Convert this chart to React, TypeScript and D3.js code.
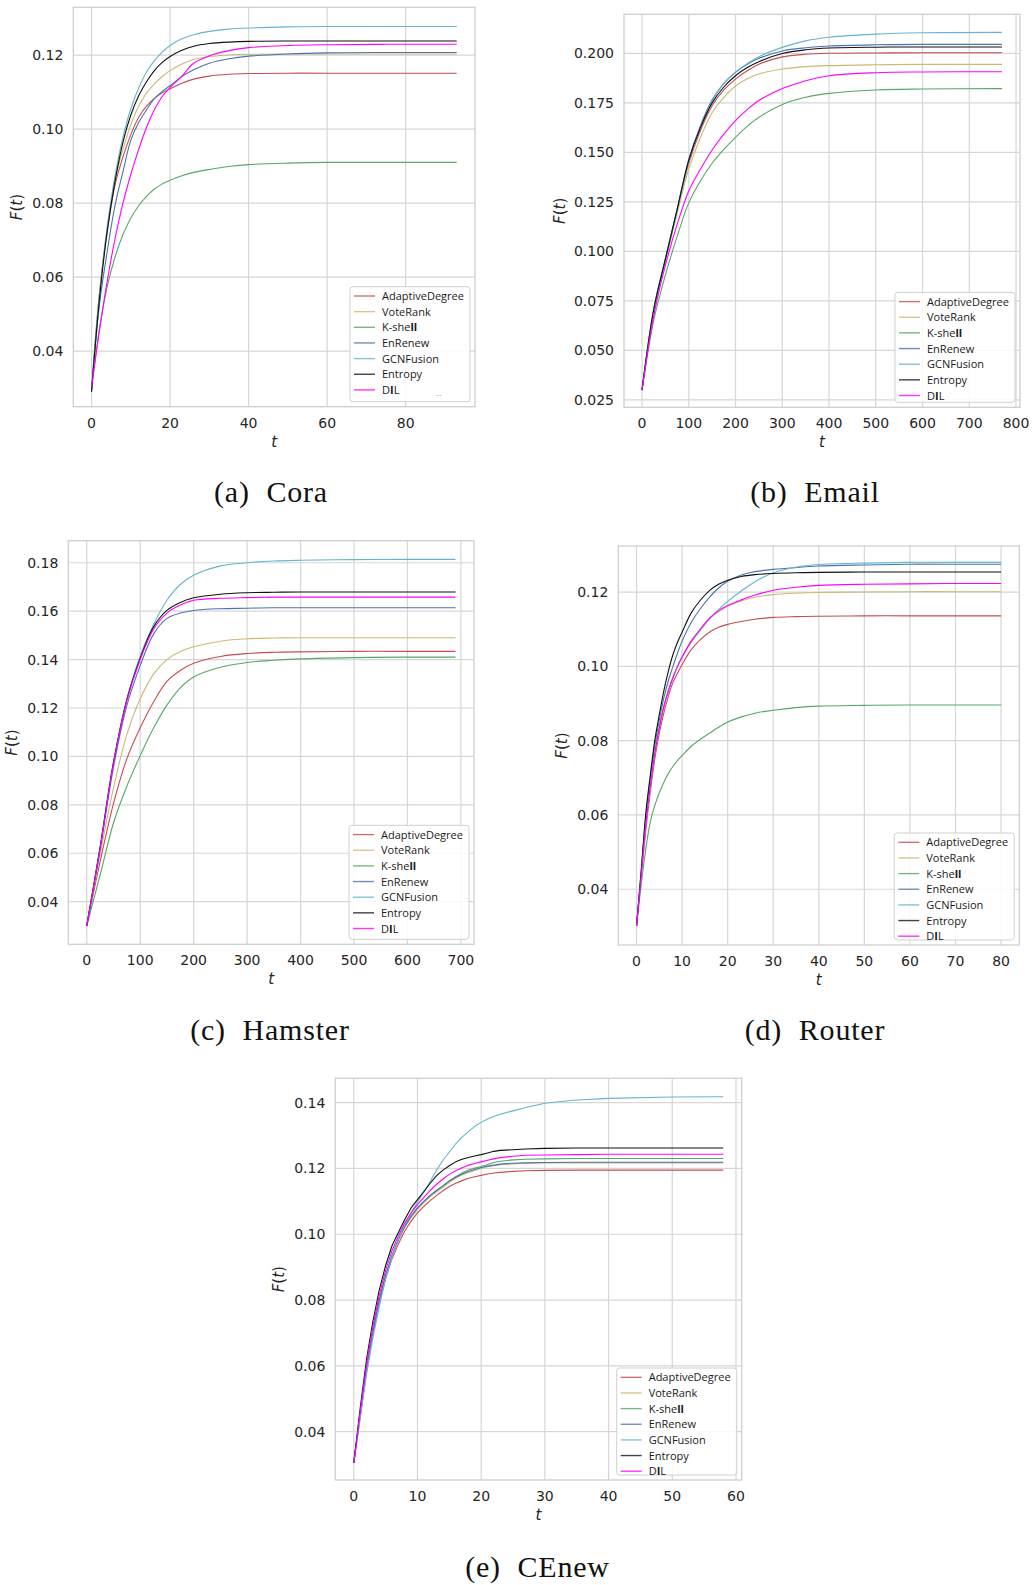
import * as d3 from "d3";

const methods = ["AdaptiveDegree", "VoteRank", "K-shell", "EnRenew", "GCNFusion", "Entropy", "DIL"];
const lineColors = ["#c44e52", "#ccb974", "#55a868", "#4c72b0", "#64b5cd", "#111111", "#ff00ff"];

// (a) Cora
const coraT = [0, 2, 4, 6, 8, 10, 12, 14, 16, 18, 20, 23, 26, 30, 35, 40, 50, 60, 75, 93];
const coraF = [
  [0.0295, 0.0555, 0.0725, 0.085, 0.0925, 0.0985, 0.1032, 0.1062, 0.1083, 0.1098, 0.1109, 0.1124, 0.1135, 0.1143, 0.1148, 0.115, 0.1151, 0.1151, 0.1151, 0.1151],
  [0.0295, 0.0555, 0.0735, 0.0865, 0.0945, 0.1012, 0.1062, 0.1097, 0.1122, 0.1142, 0.1158, 0.1176, 0.1188, 0.1196, 0.12, 0.1202, 0.1203, 0.1203, 0.1203, 0.1203],
  [0.0295, 0.046, 0.0575, 0.0655, 0.0715, 0.076, 0.0793, 0.0818, 0.0838, 0.0852, 0.0862, 0.0874, 0.0883, 0.0891, 0.0899, 0.0904, 0.0908, 0.091, 0.091, 0.091],
  [0.0295, 0.0525, 0.067, 0.0795, 0.0885, 0.097, 0.1018, 0.1052, 0.1082, 0.1102, 0.1117, 0.1142, 0.116, 0.1178, 0.119, 0.1197, 0.1203, 0.1206, 0.1207, 0.1207],
  [0.0295, 0.0549, 0.0736, 0.0875, 0.0978, 0.1055, 0.1111, 0.1154, 0.1185, 0.1208, 0.1226, 0.1244, 0.1255, 0.1264, 0.127, 0.1273, 0.1276, 0.1277, 0.1277, 0.1277],
  [0.029, 0.054, 0.0725, 0.086, 0.0965, 0.1038, 0.109, 0.1128, 0.1158, 0.118, 0.1196, 0.1213, 0.1224, 0.1231, 0.1235, 0.1237, 0.1238, 0.1238, 0.1238, 0.1238],
  [0.0305, 0.0455, 0.059, 0.0705, 0.08, 0.0878, 0.0945, 0.1005, 0.1052, 0.1088, 0.1112, 0.1143, 0.1178, 0.1198, 0.1212, 0.122, 0.1226, 0.1228, 0.1229, 0.1229],
];
const coraXTicks = [0, 20, 40, 60, 80];
const coraYTicks = [0.04, 0.06, 0.08, 0.1, 0.12];

// (b) Email
const emailT = [0, 25, 50, 75, 100, 125, 150, 175, 200, 225, 250, 300, 350, 400, 500, 600, 770];
const emailF = [
  [0.03, 0.069, 0.096, 0.121, 0.1445, 0.161, 0.1735, 0.1815, 0.187, 0.1912, 0.1945, 0.1982, 0.1995, 0.2, 0.2002, 0.2003, 0.2003],
  [0.03, 0.068, 0.095, 0.119, 0.1415, 0.1575, 0.17, 0.1778, 0.1835, 0.1872, 0.1896, 0.1921, 0.1933, 0.1938, 0.1942, 0.1944, 0.1944],
  [0.03, 0.065, 0.088, 0.1075, 0.1245, 0.1355, 0.1445, 0.1515, 0.1576, 0.1631, 0.1677, 0.1742, 0.1778, 0.1798, 0.1815, 0.182, 0.1822],
  [0.03, 0.071, 0.0965, 0.121, 0.1465, 0.1635, 0.1765, 0.1848, 0.1904, 0.1945, 0.1975, 0.2012, 0.2028, 0.2037, 0.2043, 0.2045, 0.2045],
  [0.03, 0.07, 0.0955, 0.1205, 0.1455, 0.1625, 0.176, 0.1848, 0.1905, 0.1948, 0.1983, 0.203, 0.2063, 0.2081, 0.2097, 0.2104, 0.2106],
  [0.03, 0.0705, 0.096, 0.121, 0.146, 0.1625, 0.175, 0.183, 0.1887, 0.1928, 0.1958, 0.1999, 0.2018, 0.2027, 0.2031, 0.2032, 0.2032],
  [0.03, 0.0675, 0.093, 0.1135, 0.1305, 0.1415, 0.1512, 0.1592, 0.166, 0.1716, 0.1762, 0.1822, 0.1862, 0.1887, 0.1902, 0.1906, 0.1907],
];
const emailXTicks = [0, 100, 200, 300, 400, 500, 600, 700, 800];
const emailYTicks = [0.025, 0.05, 0.075, 0.1, 0.125, 0.15, 0.175, 0.2];

// (c) Hamster
const hamsterT = [0, 25, 50, 75, 100, 125, 150, 175, 200, 250, 300, 350, 400, 500, 600, 690];
const hamsterF = [
  [0.03, 0.0565, 0.0805, 0.099, 0.1118, 0.1225, 0.131, 0.1355, 0.1385, 0.1413, 0.1425, 0.143, 0.1432, 0.1434, 0.1434, 0.1434],
  [0.03, 0.0595, 0.087, 0.109, 0.1238, 0.134, 0.14, 0.1433, 0.1453, 0.1476, 0.1486, 0.1489, 0.149, 0.149, 0.149, 0.149],
  [0.03, 0.051, 0.0725, 0.0877, 0.1003, 0.1117, 0.1212, 0.1283, 0.1328, 0.1368, 0.1388, 0.1397, 0.1403, 0.1408, 0.141, 0.141],
  [0.03, 0.0615, 0.0955, 0.121, 0.1375, 0.1505, 0.157, 0.1592, 0.1603, 0.161, 0.1612, 0.1614, 0.1614, 0.1614, 0.1614, 0.1614],
  [0.03, 0.0625, 0.0975, 0.1235, 0.1415, 0.1545, 0.1645, 0.171, 0.1748, 0.1787, 0.18, 0.1807, 0.181, 0.1813, 0.1814, 0.1814],
  [0.03, 0.0625, 0.0975, 0.1235, 0.1405, 0.1535, 0.1603, 0.1636, 0.1655, 0.167, 0.1676, 0.1678, 0.1679, 0.1679, 0.1679, 0.1679],
  [0.03, 0.062, 0.097, 0.123, 0.14, 0.1525, 0.1592, 0.1625, 0.1645, 0.1653, 0.1656, 0.1658, 0.1658, 0.1658, 0.1658, 0.1658],
];
const hamsterXTicks = [0, 100, 200, 300, 400, 500, 600, 700];
const hamsterYTicks = [0.04, 0.06, 0.08, 0.1, 0.12, 0.14, 0.16, 0.18];

// (d) Router
const routerT = [0, 1, 2, 3, 4, 5, 6, 7, 8, 9, 10, 12, 14, 16, 18, 20, 23, 26, 30, 35, 40, 50, 60, 70, 80];
const routerF = [
  [0.0301, 0.043, 0.0555, 0.066, 0.075, 0.082, 0.0875, 0.092, 0.0957, 0.0982, 0.1005, 0.1045, 0.1072, 0.1092, 0.1105, 0.1113, 0.1121, 0.1127, 0.1132, 0.1134, 0.1135, 0.1136, 0.1136, 0.1136, 0.1136],
  [0.0301, 0.0435, 0.057, 0.0675, 0.0765, 0.0835, 0.0892, 0.0935, 0.097, 0.1, 0.1025, 0.1068, 0.11, 0.1128, 0.1147, 0.1162, 0.1176, 0.1186, 0.1193, 0.1197, 0.1199, 0.12, 0.1201, 0.1201, 0.1201],
  [0.0301, 0.041, 0.0505, 0.058, 0.0625, 0.066, 0.0688, 0.0712, 0.0731, 0.0747, 0.076, 0.0785, 0.0804, 0.082, 0.0836, 0.085, 0.0864, 0.0874, 0.0882, 0.0889, 0.0893, 0.0895, 0.0896, 0.0896, 0.0896],
  [0.0301, 0.0445, 0.059, 0.0695, 0.0785, 0.0855, 0.0915, 0.0962, 0.1, 0.1036, 0.1068, 0.1118, 0.1155, 0.1186, 0.1211, 0.1229, 0.1246, 0.1255, 0.1261, 0.1266, 0.127, 0.1273, 0.1275, 0.1275, 0.1275],
  [0.0301, 0.0435, 0.057, 0.0675, 0.0765, 0.0835, 0.0892, 0.0935, 0.097, 0.1, 0.1025, 0.1065, 0.1097, 0.1127, 0.1153, 0.1175, 0.1203, 0.1228, 0.1252, 0.1267, 0.1274, 0.1278, 0.128, 0.128, 0.128],
  [0.0301, 0.0445, 0.06, 0.0705, 0.08, 0.087, 0.0935, 0.0988, 0.1032, 0.1065, 0.1092, 0.1144, 0.1178, 0.1204, 0.1221, 0.1232, 0.1242, 0.1247, 0.125, 0.1252, 0.1253, 0.1254, 0.1254, 0.1254, 0.1254],
  [0.0301, 0.0435, 0.057, 0.0675, 0.0765, 0.0835, 0.0892, 0.0935, 0.097, 0.1, 0.1025, 0.1068, 0.11, 0.113, 0.115, 0.1164, 0.1179, 0.1192, 0.1205, 0.1213, 0.1218, 0.1221, 0.1222, 0.1223, 0.1223],
];
const routerXTicks = [0, 10, 20, 30, 40, 50, 60, 70, 80];
const routerYTicks = [0.04, 0.06, 0.08, 0.1, 0.12];

// (e) CEnew
const ceT = [0, 1, 2, 3, 4, 5, 6, 7, 8, 9, 10, 11, 12, 13, 14, 15, 16, 17, 18, 19, 20, 21, 22, 23, 25, 27, 30, 35, 40, 50, 58];
const ceF = [
  [0.0305, 0.0445, 0.0585, 0.0695, 0.079, 0.0865, 0.0925, 0.097, 0.101, 0.104, 0.1065, 0.1085, 0.1102, 0.1118, 0.1132, 0.1145, 0.1155, 0.1163, 0.117, 0.1175, 0.1179, 0.1183, 0.1186, 0.1188, 0.1191, 0.1193, 0.1194, 0.1195, 0.1195, 0.1195, 0.1195],
  [0.0305, 0.0445, 0.0585, 0.07, 0.0795, 0.087, 0.093, 0.098, 0.102, 0.105, 0.1075, 0.1096, 0.1114, 0.1129, 0.1143, 0.1157, 0.117, 0.118, 0.1188, 0.1194, 0.12, 0.1205, 0.1208, 0.1211, 0.1214, 0.1216, 0.1217, 0.1217, 0.1217, 0.1217, 0.1217],
  [0.0305, 0.045, 0.059, 0.0705, 0.08, 0.0875, 0.0935, 0.0985, 0.1025, 0.1055, 0.108, 0.11, 0.1118, 0.1133, 0.1147, 0.1162, 0.1175, 0.1186, 0.1195, 0.1201, 0.1206, 0.1212, 0.1218, 0.1222, 0.1226, 0.1228, 0.1229, 0.123, 0.123, 0.123, 0.123],
  [0.0305, 0.045, 0.059, 0.0705, 0.08, 0.0875, 0.0935, 0.0985, 0.1025, 0.1055, 0.108, 0.11, 0.1118, 0.1133, 0.1147, 0.1162, 0.1173, 0.1183, 0.1191, 0.1197, 0.1203, 0.1207, 0.121, 0.1213, 0.1216, 0.1217, 0.1218, 0.1219, 0.1219, 0.1219, 0.1219],
  [0.0305, 0.044, 0.0575, 0.0685, 0.078, 0.0865, 0.093, 0.0985, 0.103, 0.1065, 0.1098, 0.1128, 0.116, 0.1195, 0.1225, 0.125, 0.1275, 0.1295, 0.1312, 0.1328, 0.134, 0.135, 0.1358, 0.1365, 0.1375, 0.1385, 0.1398, 0.1408, 0.1413, 0.1417, 0.1418],
  [0.0305, 0.047, 0.062, 0.0735, 0.083, 0.0905, 0.0965, 0.1005, 0.1045, 0.108, 0.1105, 0.113, 0.1155, 0.1178, 0.1195, 0.1208, 0.122, 0.1228, 0.1233, 0.1238, 0.1242, 0.1247, 0.1252, 0.1255, 0.1257, 0.1259, 0.1261, 0.1262, 0.1262, 0.1262, 0.1262],
  [0.0305, 0.046, 0.0605, 0.072, 0.0815, 0.089, 0.095, 0.0995, 0.1035, 0.1065, 0.109, 0.1112, 0.1133, 0.1152, 0.1168, 0.1182, 0.1193, 0.1202, 0.121, 0.1215, 0.122, 0.1225, 0.1229, 0.1233, 0.1237, 0.124, 0.1241, 0.1242, 0.1243, 0.1243, 0.1243],
];
const ceXTicks = [0, 10, 20, 30, 40, 50, 60];
const ceYTicks = [0.04, 0.06, 0.08, 0.1, 0.12, 0.14];

type PanelSpec = {
  t: number[];
  F: number[][];
  xTicks: number[];
  yTicks: number[];
  yFmt: string;
  xDomain: [number, number];
  yDomain: [number, number];
  box: [number, number, number, number]; // left, top, right, bottom
  legendH: number;
  smooth: boolean;
  caption: [string, string];
  capX: number;
  capY: number;
  dots?: boolean;
};

const panels: PanelSpec[] = [
  { t: coraT, F: coraF, xTicks: coraXTicks, yTicks: coraYTicks, yFmt: ".2f",
    xDomain: [-4.65, 97.65], yDomain: [0.025, 0.1329], box: [73.3, 7.3, 475, 406.7],
    legendH: 115, smooth: true, caption: ["(a)", "Cora"], capX: 271, capY: 501.5, dots: true },
  { t: emailT, F: emailF, xTicks: emailXTicks, yTicks: emailYTicks, yFmt: ".3f",
    xDomain: [-38.5, 808.5], yDomain: [0.0213, 0.2197], box: [624, 14.3, 1020, 407.3],
    legendH: 110, smooth: true, caption: ["(b)", "Email"], capX: 815, capY: 501.5 },
  { t: hamsterT, F: hamsterF, xTicks: hamsterXTicks, yTicks: hamsterYTicks, yFmt: ".2f",
    xDomain: [-34.5, 724.5], yDomain: [0.0224, 0.1891], box: [68.3, 540.7, 474, 944.3],
    legendH: 114, smooth: true, caption: ["(c)", "Hamster"], capX: 270, capY: 1039.5 },
  { t: routerT, F: routerF, xTicks: routerXTicks, yTicks: routerYTicks, yFmt: ".2f",
    xDomain: [-4, 84], yDomain: [0.025, 0.1324], box: [618.3, 546, 1019.3, 945],
    legendH: 107, smooth: true, caption: ["(d)", "Router"], capX: 815, capY: 1039.5 },
  { t: ceT, F: ceF, xTicks: ceXTicks, yTicks: ceYTicks, yFmt: ".2f",
    xDomain: [-2.9, 60.9], yDomain: [0.0253, 0.1474], box: [335.3, 1078.3, 741.7, 1480],
    legendH: 107, smooth: false, caption: ["(e)", "CEnew"], capX: 537.5, capY: 1577 },
];

const tickFont = "DejaVu Sans, sans-serif";
const textColor = "#262626";
const gridColor = "#d6d6d6";

function LegendLabel({ name }: { name: string }) {
  // the source legend renders some glyphs heavier ("ll" in K-shell, "I" in DIL)
  if (name === "K-shell") return <>K-she<tspan fontWeight={700}>ll</tspan></>;
  if (name === "DIL") return <>D<tspan fontWeight={700}>I</tspan>L</>;
  return <>{name}</>;
}

function Panel({ p }: { p: PanelSpec }) {
  const [left, top, right, bottom] = p.box;
  const x = d3.scaleLinear().domain(p.xDomain).range([left, right]);
  const y = d3.scaleLinear().domain(p.yDomain).range([bottom, top]);
  const fmt = d3.format(p.yFmt);
  const line = d3.line<number>()
    .x((_, i) => x(p.t[i]))
    .y(d => y(d))
    .curve(p.smooth ? d3.curveCatmullRom.alpha(0.5) : d3.curveLinear);

  const maxLabel = d3.max(p.yTicks, v => fmt(v).length) as number;
  const yLabelX = left - 10 - maxLabel * 8.1 - 14;
  const midX = (left + right) / 2;
  const midY = (top + bottom) / 2;

  const legW = 120;
  const legR = right - 5;
  const legB = bottom - 5;
  const legL = legR - legW;
  const legT = legB - p.legendH;
  const rowH = 15.65;

  return (
    <g>
      <rect x={left} y={top} width={right - left} height={bottom - top} fill="white" />
      <g stroke={gridColor} strokeWidth={1.2}>
        {p.xTicks.map(v => <line key={"gx" + v} x1={x(v)} x2={x(v)} y1={top} y2={bottom} />)}
        {p.yTicks.map(v => <line key={"gy" + v} x1={left} x2={right} y1={y(v)} y2={y(v)} />)}
      </g>
      <rect x={left} y={top} width={right - left} height={bottom - top} fill="none" stroke="#cfcfcf" strokeWidth={1.3} />
      <g fill="none" strokeWidth={1.1}>
        {p.F.map((vals, i) => (
          <path key={methods[i]} d={line(vals) || ""} stroke={lineColors[i]} strokeLinejoin="round" />
        ))}
      </g>
      <g fontFamily={tickFont} fontSize={14} fill={textColor}>
        {p.xTicks.map(v => (
          <text key={"tx" + v} x={x(v)} y={bottom + 21} textAnchor="middle">{v}</text>
        ))}
        {p.yTicks.map(v => (
          <text key={"ty" + v} x={left - 10} y={y(v)} dy="0.36em" textAnchor="end">{fmt(v)}</text>
        ))}
      </g>
      <text x={midX} y={bottom + 40} textAnchor="middle" fontFamily={tickFont} fontSize={15}
        fontStyle="italic" fill={textColor}>t</text>
      <text transform={`translate(${yLabelX},${midY}) rotate(-90)`} textAnchor="middle" dy="0.35em"
        fontFamily={tickFont} fontSize={15} fill={textColor}>
        <tspan fontStyle="italic">F</tspan>(<tspan fontStyle="italic">t</tspan>)
      </text>
      <g>
        <rect x={legL} y={legT} width={legW} height={p.legendH} rx={3} fill="white" fillOpacity={0.85}
          stroke="#d0d0d0" strokeWidth={1} />
        {methods.map((m, i) => {
          const cy = legT + 9.3 + i * rowH;
          return (
            <g key={m}>
              <line x1={legL + 4} x2={legL + 25} y1={cy} y2={cy} stroke={lineColors[i]} strokeOpacity={0.8} strokeWidth={1.4} />
              <text x={legL + 32} y={cy + 4} fontFamily="Open Sans, sans-serif" fontSize={11} fill="#1a1a1a">
                <LegendLabel name={m} />
              </text>
            </g>
          );
        })}
        {p.dots && (
          <text x={legL + 86} y={legB - 6} fontFamily="Open Sans, sans-serif" fontSize={7} fill="#888">...</text>
        )}
      </g>
      <text x={p.capX} y={p.capY} textAnchor="middle" fontFamily="Liberation Serif, serif" fontSize={30}
        letterSpacing={0.8} fill="#111">
        {p.caption[0]}{"\u00a0\u00a0"}{p.caption[1]}
      </text>
    </g>
  );
}

export default function App() {
  return (
    <svg width={1033} height={1585} style={{ position: "absolute", left: 0, top: 0, background: "white" }}>
      <rect width={1033} height={1585} fill="white" />
      {panels.map((p, i) => <Panel key={i} p={p} />)}
    </svg>
  );
}
